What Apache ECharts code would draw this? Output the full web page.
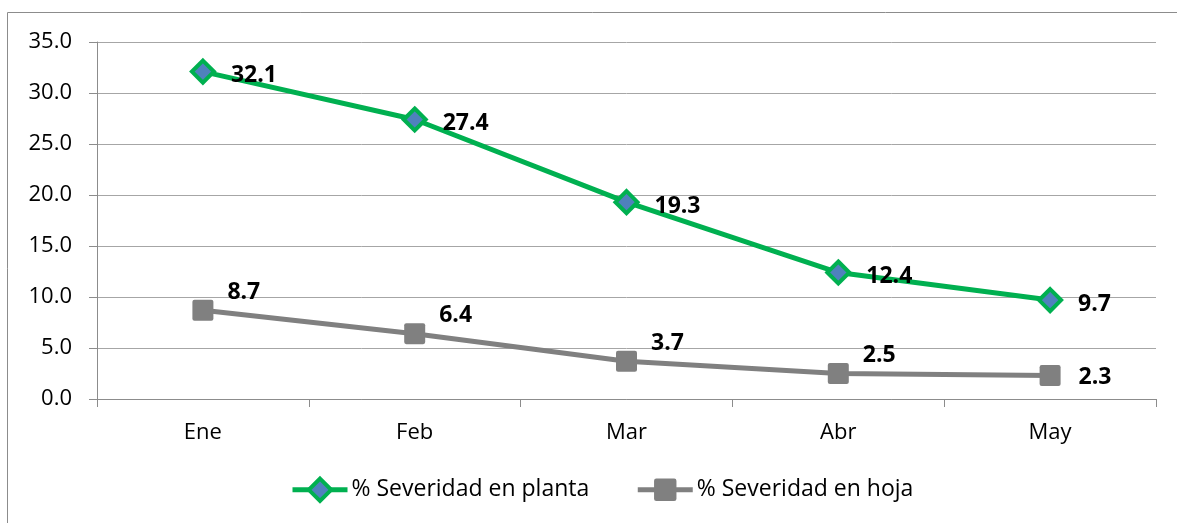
<!DOCTYPE html>
<html><head><meta charset="utf-8">
<script src="https://cdn.jsdelivr.net/npm/echarts@6/dist/echarts.min.js"></script>
<style>html,body{margin:0;padding:0;background:#fff}#c{width:1177px;height:523px}</style>
</head><body><div id="c"></div>
<script>
const categories = ['Ene','Feb','Mar','Abr','May'];
const planta = [32.1, 27.4, 19.3, 12.4, 9.7];
const hoja = [8.7, 6.4, 3.7, 2.5, 2.3];
const seriesNames = ['% Severidad en planta','% Severidad en hoja'];
const yTicks = {min:0, max:35, interval:5};

const FONT = '"Open Sans", sans-serif';
const chart = echarts.init(document.getElementById('c'), null, {renderer:'canvas'});
const labelBase = {show:true, position:'right', fontFamily:FONT, fontSize:23, fontWeight:'bold', color:'#000',
  formatter: p => p.value.toFixed(1)};
const squarePath = 'path://M2,0 H18 Q20,0 20,2 V18 Q20,20 18,20 H2 Q0,20 0,18 V2 Q0,0 2,0 Z';
chart.setOption({
  animation:false,
  graphic:[{type:'rect', shape:{x:7.5,y:12.5,width:1200,height:560}, style:{fill:'none', stroke:'#8c8c8c', lineWidth:1}, z:-1}],
  grid:{left:97, right:21, top:42, bottom:124},
  legend:{bottom:20, left:290, padding:0, itemWidth:55, itemHeight:28, itemGap:46,
    textStyle:{fontFamily:FONT, fontSize:23, color:'#000', padding:[0,0,0,-1]},
    data:[
      {name:seriesNames[0], lineStyle:{width:5, color:'#00B050'}, itemStyle:{color:'#4F81BD', borderColor:'#00B050', borderWidth:4}},
      {name:seriesNames[1], lineStyle:{width:5, color:'#808080'}, itemStyle:{color:'#808080', borderWidth:0}}
    ]},
  xAxis:{type:'category', data:categories, boundaryGap:true,
    axisLine:{lineStyle:{color:'#8c8c8c', width:1}},
    axisTick:{show:true, length:8, lineStyle:{color:'#8c8c8c'}},
    axisLabel:{fontFamily:FONT, fontSize:22, color:'#000', margin:23}},
  yAxis:{type:'value', min:yTicks.min, max:yTicks.max, interval:yTicks.interval,
    axisLine:{show:true, lineStyle:{color:'#8c8c8c'}},
    axisTick:{show:true, length:8, lineStyle:{color:'#8c8c8c'}},
    splitLine:{lineStyle:{color:'#a6a6a6'}},
    axisLabel:{fontFamily:FONT, fontSize:22, color:'#000', margin:25, formatter:v=>v.toFixed(1)}},
  series:[
    {name:seriesNames[0], type:'line', data:planta, symbol:'diamond', symbolSize:22,
      lineStyle:{color:'#00B050', width:5}, itemStyle:{color:'#4F81BD', borderColor:'#00B050', borderWidth:4},
      label:Object.assign({}, labelBase, {offset:[10,4]}), z:3},
    {name:seriesNames[1], type:'line',
      data:hoja.map((v,i)=> i===hoja.length-1 ? {value:v, label:{offset:[13,2]}} : v),
      symbol:squarePath, symbolSize:21,
      lineStyle:{color:'#808080', width:5}, itemStyle:{color:'#808080', borderColor:'#808080', borderWidth:0},
      label:Object.assign({}, labelBase, {offset:[9,-18]}), z:2}
  ]
});
</script></body></html>
